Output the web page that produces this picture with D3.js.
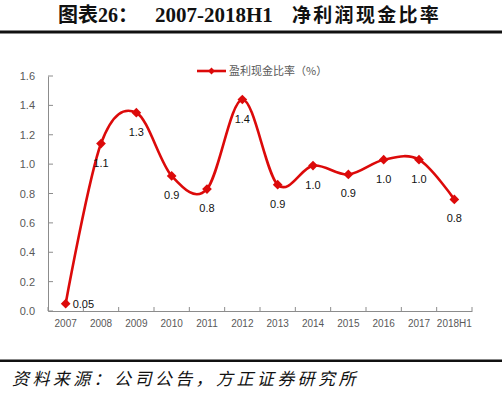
<!DOCTYPE html>
<html>
<head>
<meta charset="utf-8">
<script src="https://cdn.jsdelivr.net/npm/d3@7"></script>
<style>
  body { margin: 0; background: #fff; }
  svg { display: block; }
</style>
</head>
<body>
<div id="chart"></div>
<script>
// data
var years = ["2007", "2008", "2009", "2010", "2011", "2012", "2013", "2014", "2015", "2016", "2017", "2018H1"];
var ratio = [0.05, 1.14, 1.35, 0.92, 0.83, 1.44, 0.86, 0.99, 0.93, 1.03, 1.03, 0.76];
var labels = ["0.05", "1.1", "1.3", "0.9", "0.8", "1.4", "0.9", "1.0", "0.9", "1.0", "1.0", "0.8"];
var yTicks = [0, 0.2, 0.4, 0.6, 0.8, 1.0, 1.2, 1.4, 1.6];
var seriesName = "盈利现金比率（%）";

var W = 502, H = 394;
var red = "#dc0a0a";
var grey = "#595959";

var svg = d3.select("#chart").append("svg")
    .attr("width", W)
    .attr("height", H);

// title
var title = svg.append("g")
    .attr("font-weight", "bold")
    .attr("fill", "#111");
title.append("text")
    .attr("x", 58).attr("y", 22)
    .attr("font-family", "'Liberation Serif', 'Noto Sans CJK SC', serif")
    .attr("font-size", "20px")
    .text("图表26：");
title.append("text")
    .attr("x", 155).attr("y", 22)
    .attr("font-family", "'Liberation Serif', serif")
    .attr("font-size", "21px")
    .text("2007-2018H1");
title.append("text")
    .attr("x", 292).attr("y", 22)
    .attr("font-family", "'Noto Sans CJK SC', sans-serif")
    .attr("font-size", "19px")
    .attr("font-weight", 600)
    .attr("letter-spacing", "2.3px")
    .text("净利润现金比率");

svg.append("rect")
    .attr("x", 0).attr("y", 30.5)
    .attr("width", W).attr("height", 3)
    .attr("fill", "#111");

svg.append("rect")
    .attr("x", 0).attr("y", 359.5)
    .attr("width", W).attr("height", 2.5)
    .attr("fill", "#111");

svg.append("text")
    .attr("x", 12).attr("y", 385)
    .attr("font-family", "'Noto Sans CJK SC', sans-serif")
    .attr("font-size", "17px")
    .attr("font-style", "italic")
    .attr("letter-spacing", "3.4px")
    .attr("fill", "#111")
    .text("资料来源：公司公告，方正证券研究所");

// plot area
var x = d3.scaleBand()
    .domain(years)
    .range([48, 472]);

var y = d3.scaleLinear()
    .domain([0, 1.6])
    .range([311, 76]);

var xAxis = svg.append("g")
    .attr("transform", "translate(0," + y(0) + ")")
    .call(d3.axisBottom(x).tickSize(0).tickPadding(9));
xAxis.select(".domain").attr("stroke", "#8c8c8c");
xAxis.selectAll("text")
    .attr("font-family", "'Liberation Sans', Arial, sans-serif")
    .attr("font-size", "10px")
    .attr("fill", grey);

// inside tick marks on category edges
svg.append("g").selectAll("line")
    .data(years.concat(["end"]))
    .enter()
    .append("line")
    .attr("x1", function(d, i){ return x.range()[0] + i * x.step(); })
    .attr("x2", function(d, i){ return x.range()[0] + i * x.step(); })
    .attr("y1", y(0))
    .attr("y2", y(0) - 4)
    .attr("stroke", "#8c8c8c");

var yAxis = svg.append("g")
    .attr("transform", "translate(48,0)")
    .call(d3.axisLeft(y).tickValues(yTicks).tickFormat(d3.format(".1f")).tickSize(0).tickPadding(13));
yAxis.select(".domain").attr("stroke", "#8c8c8c");
yAxis.selectAll("text")
    .attr("font-family", "'Liberation Sans', Arial, sans-serif")
    .attr("font-size", "11px")
    .attr("fill", grey);

svg.append("g").selectAll("line")
    .data(yTicks)
    .enter()
    .append("line")
    .attr("x1", 48)
    .attr("x2", 53)
    .attr("y1", function(d){ return y(d); })
    .attr("y2", function(d){ return y(d); })
    .attr("stroke", "#8c8c8c");

// series
var points = years.map(function(d, i){
    return { year: d, value: ratio[i], label: labels[i] };
});

var line = d3.line()
    .x(function(d){ return x(d.year) + x.bandwidth() / 2; })
    .y(function(d){ return y(d.value); })
    .curve(d3.curveCardinal.tension(0));

svg.append("path")
    .datum(points)
    .attr("d", line)
    .attr("fill", "none")
    .attr("stroke", red)
    .attr("stroke-width", 2.6);

var diamond = d3.symbol().type(d3.symbolDiamond2).size(60);

svg.append("g").selectAll("path")
    .data(points)
    .enter()
    .append("path")
    .attr("d", diamond)
    .attr("transform", function(d){
        return "translate(" + (x(d.year) + x.bandwidth() / 2) + "," + y(d.value) + ")";
    })
    .attr("fill", red);

svg.append("g").selectAll("text")
    .data(points)
    .enter()
    .append("text")
    .attr("x", function(d, i){
        var cx = x(d.year) + x.bandwidth() / 2;
        return i == 0 ? cx + 7 : cx;
    })
    .attr("y", function(d, i){
        return i == 0 ? y(d.value) + 4 : y(d.value) + 23;
    })
    .attr("text-anchor", function(d, i){ return i == 0 ? "start" : "middle"; })
    .attr("font-family", "'Liberation Sans', Arial, sans-serif")
    .attr("font-size", "11px")
    .attr("fill", "#111")
    .text(function(d){ return d.label; });

// legend
var legend = svg.append("g");
legend.append("line")
    .attr("x1", 197).attr("x2", 226)
    .attr("y1", 71).attr("y2", 71)
    .attr("stroke", red)
    .attr("stroke-width", 2.6);
legend.append("path")
    .attr("d", d3.symbol().type(d3.symbolDiamond2).size(30))
    .attr("transform", "translate(211.5,71)")
    .attr("fill", red);
legend.append("text")
    .attr("x", 229).attr("y", 75)
    .attr("font-family", "'Noto Sans CJK SC', sans-serif")
    .attr("font-size", "11px")
    .attr("fill", grey)
    .text(seriesName);
</script>
</body>
</html>
